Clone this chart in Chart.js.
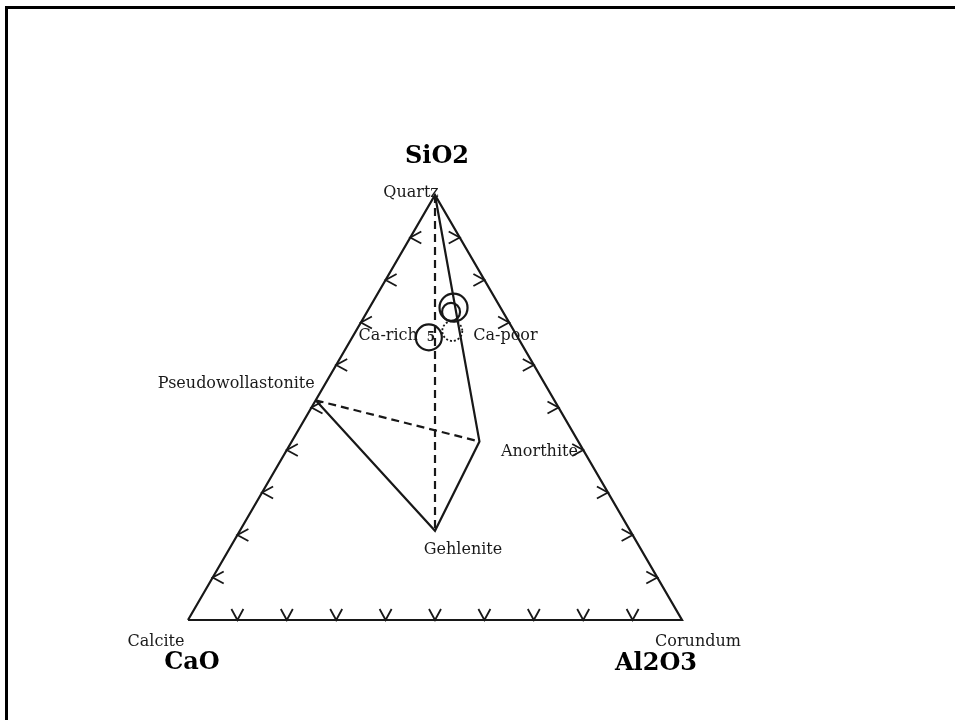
<!DOCTYPE html>
<html>
<head>
<meta charset="utf-8">
<script src="https://cdn.jsdelivr.net/npm/chart.js@4.4.1/dist/chart.umd.min.js"></script>
<style>
  html, body { margin: 0; padding: 0; background: #fff; overflow: hidden; }
  #wrap { position: relative; width: 955px; height: 720px; }
  #frame { position: absolute; left: 5px; top: 6px; width: 1000px; height: 800px;
           border-top: 3px solid #000; border-left: 3px solid #000; }
  canvas { position: absolute; left: 0; top: 0; }
</style>
</head>
<body>
<div id="wrap">
  <div id="frame"></div>
  <canvas id="c" width="955" height="720"></canvas>
</div>
<script>
// Phase compositions, wt% oxides
const phases = ['Quartz', 'Pseudowollastonite', 'Gehlenite', 'Anorthite', 'Calcite', 'Corundum'];
const phaseCaO   = [0, 48.3, 39.5, 20, 100, 0];
const phaseAl2O3 = [0, 0, 39.5, 38, 0, 100];
const phaseSiO2  = [100, 51.7, 21, 42, 0, 0];

// Corner oxides
const oxides = ['SiO2', 'CaO', 'Al2O3'];

// Sample groups (centre composition, wt%) and marker size
const groups = ['Ca-poor', 'Ca-poor core', 'Ca-rich', 'Ca-poor fine'];
const groupCaO   = [9.5, 10.5, 18, 12.5];
const groupAl2O3 = [17, 17, 15.5, 19.5];
const groupSiO2  = [73.5, 72.5, 66.5, 68];
const groupSize  = [14, 9, 13, 10];
const groupCount = ['', '', '5', ''];

// Axis tick fractions along each edge
const tickFractions = [0.1, 0.2, 0.3, 0.4, 0.5, 0.6, 0.7, 0.8, 0.9];

const H = Math.sqrt(3) / 2;
function tern(ca, al, si) {
  const s = ca + al + si;
  return { x: (al + si / 2) / s, y: (si / s) * H };
}
const P = phases.map((n, i) => tern(phaseCaO[i], phaseAl2O3[i], phaseSiO2[i]));
const idx = name => P[phases.indexOf(name)];

const INK = '#181818';
const lineSet = (pts, dash) => ({
  type: 'scatter', data: pts, showLine: true, borderColor: INK, borderWidth: 2.2,
  borderDash: dash || [], pointRadius: 0, fill: false, clip: false, tension: 0
});

const datasets = [
  lineSet([idx('Calcite'), idx('Corundum'), idx('Quartz'), idx('Calcite')]),
  lineSet([idx('Quartz'), idx('Anorthite'), idx('Gehlenite'), idx('Pseudowollastonite')]),
  lineSet([idx('Quartz'), idx('Gehlenite')], [8, 5]),
  lineSet([idx('Pseudowollastonite'), idx('Anorthite')], [8, 5])
];
groups.forEach((g, i) => {
  const p = tern(groupCaO[i], groupAl2O3[i], groupSiO2[i]);
  datasets.push({
    type: 'bubble', label: g,
    data: [{ x: p.x, y: p.y, r: groupSize[i] }],
    backgroundColor: 'rgba(0,0,0,0)', borderColor: INK,
    borderWidth: i === 3 ? 1.8 : 2.2, clip: false,
    dotted: i === 3
  });
});

// Text placement relative to the marks (pixels)
const phaseLabelStyle = {
  Quartz:             { dx: -24, dy: -2,  align: 'center' },
  Pseudowollastonite: { dx: -1,  dy: -16, align: 'right' },
  Gehlenite:          { dx: 28,  dy: 19,  align: 'center' },
  Anorthite:          { dx: 60,  dy: 10,  align: 'center' },
  Calcite:            { dx: -32, dy: 22,  align: 'center' },
  Corundum:           { dx: 16,  dy: 22,  align: 'center' }
};
const oxideAnchor = { SiO2: 'Quartz', CaO: 'Calcite', Al2O3: 'Corundum' };
const oxideOffset = { SiO2: [2, -38], CaO: [4, 43], Al2O3: [-26, 44] };
const groupLabelStyle = {
  'Ca-rich': { dx: -11, dy: -2, align: 'right' },
  'Ca-poor': { dx: 21,  dy: 5,  align: 'left', anchor: 'Ca-poor fine' }
};

const dottedPlugin = {
  id: 'dotted',
  beforeDatasetDraw(chart, args) {
    const ds = chart.data.datasets[args.index];
    if (ds.dotted) { chart.ctx.save(); chart.ctx.setLineDash([2, 2]); }
  },
  afterDatasetDraw(chart, args) {
    const ds = chart.data.datasets[args.index];
    if (ds.dotted) chart.ctx.restore();
  }
};

const ternaryDecor = {
  id: 'ternaryDecor',
  afterDatasetsDraw(chart) {
    const { ctx, scales: { x, y } } = chart;
    const px = p => [x.getPixelForValue(p.x), y.getPixelForValue(p.y)];

    // edge ticks: chevrons pointing outward
    ctx.save();
    ctx.strokeStyle = INK; ctx.lineWidth = 1.8; ctx.setLineDash([]);
    const w = 6, l = 11;
    tickFractions.forEach(f => {
      // base (Al2O3 axis)
      let [bx, by] = px(tern(1 - f, f, 0));
      ctx.beginPath(); ctx.moveTo(bx - w, by - l); ctx.lineTo(bx, by); ctx.lineTo(bx + w, by - l); ctx.stroke();
      // left edge (SiO2 with CaO)
      let [lx, ly] = px(tern(1 - f, 0, f));
      ctx.beginPath(); ctx.moveTo(lx + l, ly - w); ctx.lineTo(lx, ly); ctx.lineTo(lx + l, ly + w); ctx.stroke();
      // right edge (SiO2 with Al2O3)
      let [rx, ry] = px(tern(0, 1 - f, f));
      ctx.beginPath(); ctx.moveTo(rx - l, ry - w); ctx.lineTo(rx, ry); ctx.lineTo(rx - l, ry + w); ctx.stroke();
    });
    ctx.restore();

    ctx.save();
    ctx.textBaseline = 'middle';
    ctx.fillStyle = '#1a1a1a';
    ctx.font = '16px "DejaVu Serif"';
    phases.forEach((n, i) => {
      const s = phaseLabelStyle[n];
      const [cx, cy] = px(P[i]);
      ctx.textAlign = s.align;
      ctx.fillText(n, cx + s.dx, cy + s.dy);
    });
    Object.keys(groupLabelStyle).forEach(n => {
      const s = groupLabelStyle[n];
      const gi = groups.indexOf(s.anchor || n);
      const [cx, cy] = px(tern(groupCaO[gi], groupAl2O3[gi], groupSiO2[gi]));
      ctx.textAlign = s.align;
      ctx.fillText(n, cx + s.dx, cy + s.dy);
    });
    ctx.font = 'bold 12px "DejaVu Serif"';
    ctx.textAlign = 'center';
    groups.forEach((g, i) => {
      if (!groupCount[i]) return;
      const [cx, cy] = px(tern(groupCaO[i], groupAl2O3[i], groupSiO2[i]));
      ctx.fillText(groupCount[i], cx + 2, cy);
    });
    ctx.fillStyle = '#000';
    ctx.font = 'bold 24px "DejaVu Serif"';
    oxides.forEach(o => {
      const [cx, cy] = px(idx(oxideAnchor[o]));
      ctx.fillText(o, cx + oxideOffset[o][0], cy + oxideOffset[o][1]);
    });
    ctx.restore();
  }
};

new Chart(document.getElementById('c'), {
  type: 'scatter',
  data: { datasets },
  options: {
    responsive: false,
    animation: false,
    devicePixelRatio: 1,
    layout: { padding: { left: 188, right: 273, top: 195, bottom: 100 } },
    scales: {
      x: { type: 'linear', min: 0, max: 1, display: false },
      y: { type: 'linear', min: 0, max: H, display: false }
    },
    plugins: { legend: { display: false }, tooltip: { enabled: false } }
  },
  plugins: [dottedPlugin, ternaryDecor]
});
</script>
</body>
</html>
